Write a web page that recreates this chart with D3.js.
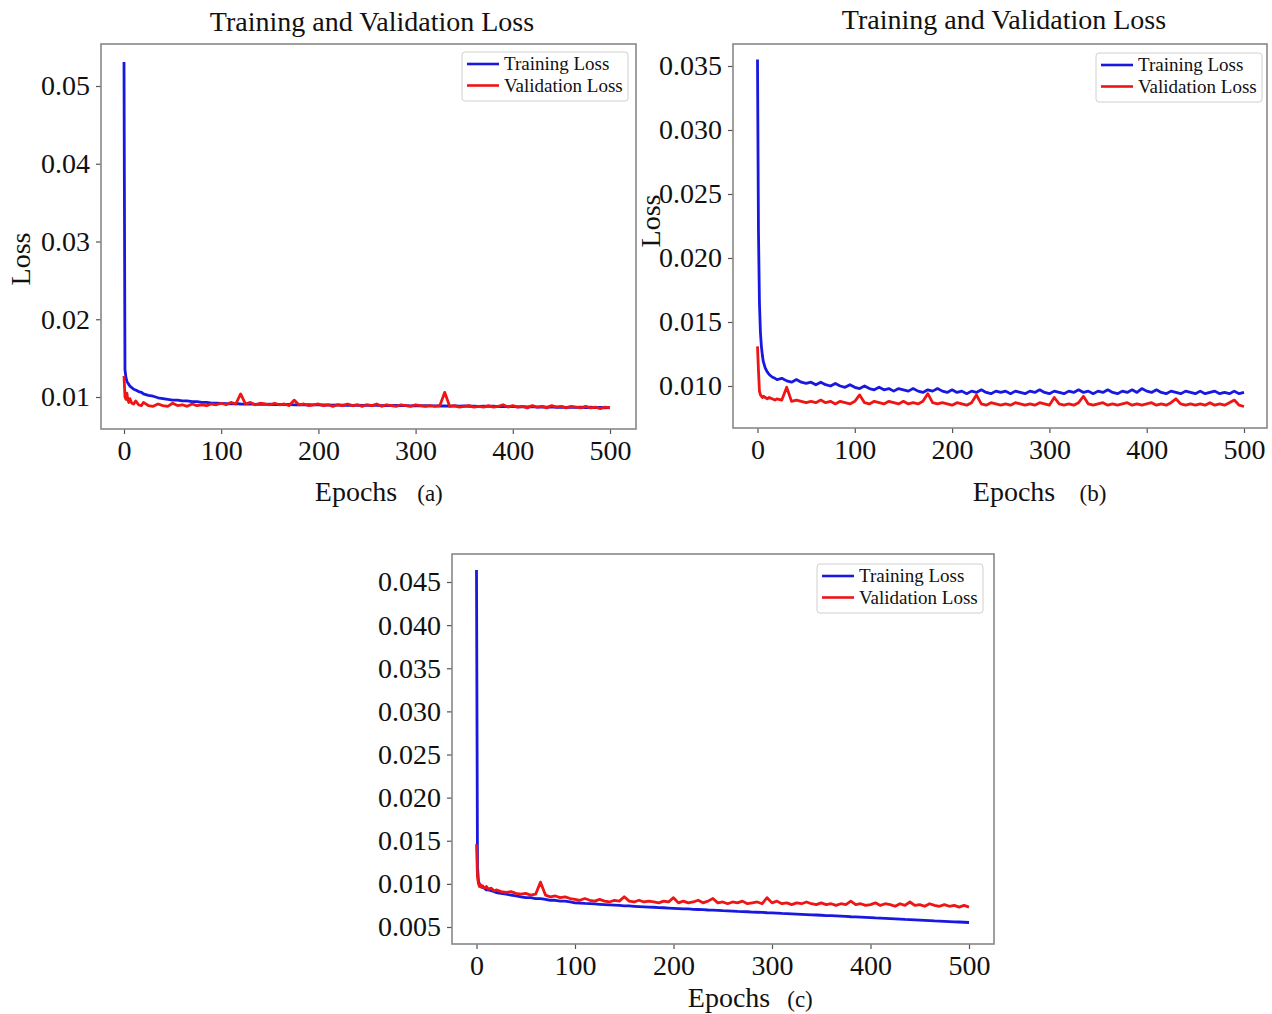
<!DOCTYPE html>
<html>
<head>
<meta charset="utf-8">
<script src="https://cdn.jsdelivr.net/npm/d3@7"></script>
<style>
  html, body { margin: 0; padding: 0; background: #fff; }
  svg { display: block; font-family: "Liberation Serif", "Times New Roman", Times, serif; }
</style>
</head>
<body>
<svg id="chart" width="1272" height="1014"></svg>
<script>
// ---- data -------------------------------------------------------------
const epochs = [0, 1, 2, 3, 4, 5, 6, 8, 10, 12, 15, 18,
  20, 25, 30, 35, 40, 45, 50, 55, 60, 65, 70, 75, 80, 85, 90, 95,
  100, 105, 110, 115, 120, 125, 130, 135, 140, 145, 150, 155, 160, 165, 170, 175, 180, 185, 190, 195,
  200, 205, 210, 215, 220, 225, 230, 235, 240, 245, 250, 255, 260, 265, 270, 275, 280, 285, 290, 295,
  300, 305, 310, 315, 320, 325, 330, 335, 340, 345, 350, 355, 360, 365, 370, 375, 380, 385, 390, 395,
  400, 405, 410, 415, 420, 425, 430, 435, 440, 445, 450, 455, 460, 465, 470, 475, 480, 485, 490, 495,
  500];

// (a)
const trainA = [0.0531, 0.0135, 0.0125, 0.0120, 0.0118, 0.0116, 0.0114, 0.0112, 0.0110, 0.0109, 0.0107, 0.0106,
  0.0104, 0.0102, 0.0101, 0.0099, 0.0098, 0.0097, 0.0096, 0.0096, 0.0095, 0.0095, 0.0094, 0.0094, 0.0093, 0.0093, 0.0092, 0.0092,
  0.00918, 0.00915, 0.00912, 0.00914, 0.00910, 0.00908, 0.00911, 0.00906, 0.00908, 0.00905, 0.00907, 0.00903, 0.00905, 0.00902, 0.00904, 0.00900, 0.00903, 0.00899, 0.00901, 0.00898,
  0.00900, 0.00897, 0.00899, 0.00895, 0.00898, 0.00894, 0.00896, 0.00893, 0.00896, 0.00892, 0.00894, 0.00891, 0.00893, 0.00890, 0.00892, 0.00889, 0.00891, 0.00888, 0.00890, 0.00887,
  0.00889, 0.00886, 0.00888, 0.00885, 0.00887, 0.00884, 0.00886, 0.00883, 0.00885, 0.00882, 0.00884, 0.00881, 0.00883, 0.00880, 0.00882, 0.00879, 0.00881, 0.00877, 0.00880, 0.00876,
  0.00879, 0.00874, 0.00877, 0.00873, 0.00876, 0.00871, 0.00874, 0.00870, 0.00873, 0.00868, 0.00871, 0.00867, 0.00870, 0.00866, 0.00869, 0.00864, 0.00868, 0.00863, 0.00866, 0.00862,
  0.00864];
const valA = [0.0127, 0.0100, 0.0097, 0.0105, 0.0096, 0.0093, 0.0098, 0.0092, 0.0091, 0.0095, 0.0090, 0.0089,
  0.0093, 0.0089, 0.0088, 0.0091, 0.0089, 0.0088, 0.0092, 0.0089, 0.0090, 0.0088, 0.0091, 0.0089, 0.0090, 0.0089, 0.0091, 0.0090,
  0.0092, 0.0090, 0.0093, 0.0091, 0.0104, 0.0091, 0.0093, 0.0090, 0.0092, 0.0091, 0.0090, 0.0092, 0.0090, 0.0091, 0.0089, 0.0096, 0.0090, 0.0091, 0.0089, 0.0090,
  0.0091, 0.0089, 0.0090, 0.0088, 0.0090, 0.0089, 0.0091, 0.0089, 0.0090, 0.0088, 0.0090, 0.0089, 0.0091, 0.0088, 0.0090, 0.0089, 0.0088, 0.0090, 0.0089, 0.0088,
  0.0090, 0.0089, 0.0088, 0.0089, 0.0088, 0.0089, 0.0106, 0.0088, 0.0089, 0.0087, 0.0088, 0.0089, 0.0087, 0.0088, 0.0087, 0.0089, 0.0087, 0.0088, 0.0090, 0.0087,
  0.0089, 0.0087, 0.0088, 0.0086, 0.0089, 0.0087, 0.0088, 0.0086, 0.0089, 0.0087, 0.0088, 0.0086, 0.0088, 0.0087, 0.0086, 0.0088, 0.0086, 0.0087, 0.0085, 0.0087,
  0.0086];

// (b)
const trainB = [0.0355, 0.0220, 0.0165, 0.0142, 0.0131, 0.0124, 0.0119, 0.0114, 0.0111, 0.0109, 0.0107, 0.0106,
  0.0105, 0.0106, 0.0104, 0.0103, 0.0105, 0.0103, 0.0102, 0.0103, 0.0101, 0.0103, 0.0101, 0.0100, 0.0102, 0.0100, 0.0099, 0.0101,
  0.0099, 0.0098, 0.0100, 0.0098, 0.0097, 0.0099, 0.0097, 0.0098, 0.0096, 0.0098, 0.0097, 0.0096, 0.0098, 0.0096, 0.0095, 0.0097, 0.0096, 0.0098, 0.0096, 0.0095,
  0.0097, 0.0095, 0.0096, 0.0094, 0.0096, 0.0095, 0.0097, 0.0095, 0.0094, 0.0096, 0.0095, 0.0096, 0.0094, 0.0096, 0.0095, 0.0094, 0.0096, 0.0095, 0.0097, 0.0095,
  0.0094, 0.0096, 0.0095, 0.0094, 0.0096, 0.0095, 0.0097, 0.0095, 0.0096, 0.0094, 0.0096, 0.0095, 0.0097, 0.0095, 0.0094, 0.0096, 0.0095, 0.0097, 0.0095, 0.0098,
  0.0096, 0.0095, 0.0097, 0.0095, 0.0094, 0.0096, 0.0095, 0.0094, 0.0096, 0.0095, 0.0094, 0.0096, 0.0094, 0.0095, 0.0096, 0.0094, 0.0095, 0.0094, 0.0096, 0.0094,
  0.0095];
const valB = [0.0131, 0.0112, 0.0096, 0.0093, 0.0092, 0.0091, 0.0092, 0.0091, 0.0090, 0.0091, 0.0090, 0.0089,
  0.0090, 0.0089, 0.0099, 0.0088, 0.0089, 0.0088, 0.0087, 0.0088, 0.0087, 0.0089, 0.0087, 0.0088, 0.0086, 0.0088, 0.0087, 0.0086,
  0.0088, 0.0093, 0.0087, 0.0086, 0.0088, 0.0087, 0.0086, 0.0088, 0.0087, 0.0086, 0.0088, 0.0086, 0.0087, 0.0086, 0.0088, 0.0094, 0.0087, 0.0086, 0.0087, 0.0086,
  0.0085, 0.0087, 0.0086, 0.0085, 0.0087, 0.0093, 0.0086, 0.0085, 0.0087, 0.0086, 0.0085, 0.0086, 0.0085, 0.0087, 0.0086, 0.0085, 0.0086, 0.0085, 0.0087, 0.0086,
  0.0085, 0.0091, 0.0086, 0.0085, 0.0086, 0.0085, 0.0087, 0.0092, 0.0086, 0.0085, 0.0086, 0.0087, 0.0085, 0.0086, 0.0085, 0.0086, 0.0087, 0.0085, 0.0086, 0.0085,
  0.0086, 0.0087, 0.0085, 0.0086, 0.0085, 0.0087, 0.0090, 0.0086, 0.0085, 0.0086, 0.0085, 0.0086, 0.0085, 0.0087, 0.0085, 0.0086, 0.0085, 0.0087, 0.0089, 0.0085,
  0.0084];

// (c)
const trainC = [0.0464, 0.0120, 0.0103, 0.0100, 0.0098, 0.0097, 0.0096, 0.0095, 0.0093, 0.0093, 0.0092, 0.0091,
  0.0090, 0.0089, 0.0088, 0.0087, 0.0086, 0.0085, 0.0084, 0.0084, 0.0083, 0.0083, 0.0082, 0.0081, 0.0081, 0.0080, 0.0080, 0.0079,
  0.00780, 0.00778, 0.00773, 0.00770, 0.00767, 0.00763, 0.00760, 0.00757, 0.00753, 0.00750, 0.00746, 0.00744, 0.00740, 0.00737, 0.00734, 0.00731, 0.00729, 0.00725, 0.00723, 0.00719,
  0.00716, 0.00714, 0.00711, 0.00709, 0.00705, 0.00703, 0.00701, 0.00697, 0.00695, 0.00693, 0.00689, 0.00687, 0.00685, 0.00681, 0.00679, 0.00677, 0.00673, 0.00671, 0.00669, 0.00665,
  0.00663, 0.00661, 0.00657, 0.00655, 0.00652, 0.00649, 0.00647, 0.00644, 0.00641, 0.00639, 0.00636, 0.00633, 0.00631, 0.00628, 0.00625, 0.00623, 0.00619, 0.00617, 0.00614, 0.00611,
  0.00609, 0.00605, 0.00603, 0.00600, 0.00597, 0.00594, 0.00592, 0.00588, 0.00586, 0.00583, 0.00580, 0.00577, 0.00575, 0.00571, 0.00569, 0.00566, 0.00563, 0.00560, 0.00558, 0.00555,
  0.00552];
const valC = [0.0146, 0.0108, 0.0100, 0.0097, 0.0099, 0.0096, 0.0098, 0.0095, 0.0097, 0.0094, 0.0095, 0.0092,
  0.0093, 0.0091, 0.0090, 0.0091, 0.0089, 0.0088, 0.0089, 0.0087, 0.0088, 0.0102, 0.0087, 0.0085, 0.0086, 0.0084, 0.0085, 0.0083,
  0.0082, 0.0081, 0.0083, 0.0081, 0.0080, 0.0082, 0.0080, 0.0079, 0.0081, 0.0080, 0.0085, 0.0080, 0.0079, 0.0081, 0.0079, 0.0080, 0.0079, 0.0078, 0.0080, 0.0079,
  0.0084, 0.0078, 0.0080, 0.0078, 0.0079, 0.0081, 0.0078, 0.0080, 0.0083, 0.0078, 0.0079, 0.0077, 0.0079, 0.0078, 0.0080, 0.0077, 0.0078, 0.0079, 0.0077, 0.0084,
  0.0078, 0.0080, 0.0077, 0.0078, 0.0076, 0.0078, 0.0077, 0.0079, 0.0077, 0.0076, 0.0078, 0.0076, 0.0077, 0.0075, 0.0077, 0.0076, 0.0080, 0.0076, 0.0077, 0.0075,
  0.0076, 0.0078, 0.0075, 0.0077, 0.0076, 0.0074, 0.0077, 0.0075, 0.0079, 0.0075, 0.0076, 0.0074, 0.0077, 0.0075, 0.0074, 0.0076, 0.0074, 0.0075, 0.0073, 0.0075,
  0.0073];

const epochTicks = [0, 100, 200, 300, 400, 500];
const lossTicksA = [0.01, 0.02, 0.03, 0.04, 0.05];
const lossTicksB = [0.010, 0.015, 0.020, 0.025, 0.030, 0.035];
const lossTicksC = [0.005, 0.010, 0.015, 0.020, 0.025, 0.030, 0.035, 0.040, 0.045];
const seriesNames = ["Training Loss", "Validation Loss"];
const titleText = "Training and Validation Loss";
const xLabelText = "Epochs";
const yLabelText = "Loss";

// ---- layout -----------------------------------------------------------
const colors = ["#1818e0", "#ee1515"];
const panels = [
  { tag: "(a)", train: trainA, val: valA, yTicks: lossTicksA, yFmt: d3.format(".2f"),
    frame: { x0: 101, y0: 44, x1: 636, y1: 429 },
    xRange: [124, 610], yDomain: [0.01, 0.05], yRange: [397, 86],
    title: { x: 372, y: 31 }, ylabel: { x: 30, y: 259 },
    xlabel: { x: 356, y: 501 }, tagPos: { x: 430, y: 501 }, legend: { x: 462, y: 52 } },
  { tag: "(b)", train: trainB, val: valB, yTicks: lossTicksB, yFmt: d3.format(".3f"),
    frame: { x0: 733, y0: 44, x1: 1267, y1: 428 },
    xRange: [757.5, 1244], yDomain: [0.010, 0.035], yRange: [386, 66],
    title: { x: 1004, y: 29 }, ylabel: { x: 660, y: 221 },
    xlabel: { x: 1014, y: 501 }, tagPos: { x: 1093, y: 501 }, legend: { x: 1096, y: 53 } },
  { tag: "(c)", train: trainC, val: valC, yTicks: lossTicksC, yFmt: d3.format(".3f"),
    frame: { x0: 452, y0: 554, x1: 994, y1: 944 },
    xRange: [476.5, 969], yDomain: [0.005, 0.045], yRange: [927, 582],
    title: null, ylabel: null,
    xlabel: { x: 729, y: 1007 }, tagPos: { x: 800, y: 1007 }, legend: { x: 817, y: 564 } }
];

const svg = d3.select("#chart");
svg.append("rect").attr("width", 1272).attr("height", 1014).attr("fill", "#fff");

panels.forEach((p, i) => {
  const f = p.frame;
  const x = d3.scaleLinear().domain([0, 500]).range(p.xRange);
  const y = d3.scaleLinear().domain(p.yDomain).range(p.yRange);
  const g = svg.append("g");

  const clipId = "clip" + i;
  g.append("clipPath").attr("id", clipId)
    .append("rect").attr("x", f.x0).attr("y", f.y0)
    .attr("width", f.x1 - f.x0).attr("height", f.y1 - f.y0);

  // axes
  const yAxis = d3.axisLeft(y).tickValues(p.yTicks).tickFormat(p.yFmt).tickSize(5).tickPadding(6);
  const xAxis = d3.axisBottom(x).tickValues(epochTicks).tickFormat(d3.format("d")).tickSize(5).tickPadding(6);
  const ya = g.append("g").attr("transform", `translate(${f.x0},0)`).call(yAxis);
  const xa = g.append("g").attr("transform", `translate(0,${f.y1})`).call(xAxis);
  [ya, xa].forEach(a => {
    a.select(".domain").remove();
    a.selectAll(".tick line").attr("stroke", "#555").attr("stroke-width", 1.2);
    a.selectAll(".tick text").attr("fill", "#111").attr("font-size", 28)
      .attr("font-family", "\"Liberation Serif\", \"Times New Roman\", serif");
  });

  // series: training first, validation drawn over it
  const line = d3.line().x((d, k) => x(epochs[k])).y(d => y(d));
  const plot = g.append("g").attr("clip-path", `url(#${clipId})`);
  [p.train, p.val].forEach((s, k) => {
    plot.append("path").datum(s)
      .attr("d", line)
      .attr("fill", "none")
      .attr("stroke", colors[k])
      .attr("stroke-width", 2.8)
      .attr("stroke-linejoin", "round");
  });

  // frame
  g.append("rect").attr("x", f.x0).attr("y", f.y0)
    .attr("width", f.x1 - f.x0).attr("height", f.y1 - f.y0)
    .attr("fill", "none").attr("stroke", "#888").attr("stroke-width", 1.6);

  // legend
  const lg = g.append("g").attr("transform", `translate(${p.legend.x},${p.legend.y})`);
  lg.append("rect").attr("width", 166).attr("height", 49).attr("rx", 3)
    .attr("fill", "#fff").attr("stroke", "#d0d0d0").attr("stroke-width", 1);
  seriesNames.forEach((name, k) => {
    const cy = 12 + k * 21.5;
    lg.append("line").attr("x1", 5).attr("x2", 37).attr("y1", cy).attr("y2", cy)
      .attr("stroke", colors[k]).attr("stroke-width", 2.6);
    lg.append("text").attr("x", 42).attr("y", cy).attr("dy", "0.33em")
      .attr("font-size", 19).attr("fill", "#111").text(name);
  });

  // titles and labels
  if (p.title) {
    g.append("text").attr("x", p.title.x).attr("y", p.title.y)
      .attr("text-anchor", "middle").attr("font-size", 28).attr("fill", "#111").text(titleText);
  }
  if (p.ylabel) {
    g.append("text").attr("transform", `translate(${p.ylabel.x},${p.ylabel.y}) rotate(-90)`)
      .attr("text-anchor", "middle").attr("font-size", 28).attr("fill", "#111").text(yLabelText);
  }
  g.append("text").attr("x", p.xlabel.x).attr("y", p.xlabel.y)
    .attr("text-anchor", "middle").attr("font-size", 28).attr("fill", "#111").text(xLabelText);
  g.append("text").attr("x", p.tagPos.x).attr("y", p.tagPos.y)
    .attr("text-anchor", "middle").attr("font-size", 23).attr("fill", "#111").text(p.tag);
});
</script>
</body>
</html>
